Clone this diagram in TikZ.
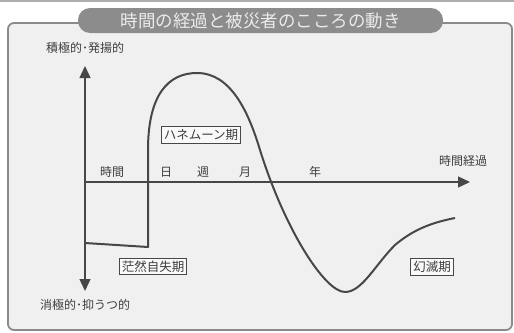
\documentclass[tikz,border=0pt]{standalone}
\usepackage{fontspec}
\newfontfamily\jp{Noto Sans CJK JP}
\usetikzlibrary{arrows.meta}
\definecolor{framebg}{HTML}{F0F0F0}
\definecolor{framec}{HTML}{8A8A8A}
\definecolor{bannerc}{HTML}{8C8C8C}
\definecolor{linec}{HTML}{474747}
\definecolor{textc}{HTML}{3E3E3E}
\tikzset{
  lbl/.style={font=\jp\fontsize{12}{13}\selectfont, text=textc, inner sep=0pt},
  phasebox/.style={draw=linec, line width=1pt, fill=white!60!framebg, font=\jp\fontsize{12.5}{13}\selectfont, text=textc, inner sep=2.5pt},
  axisline/.style={draw=linec, line width=1.3pt},
  tip/.style={-{Triangle[length=12pt,width=11pt]}},
}
\begin{document}
\begin{tikzpicture}[x=1pt,y=-1pt]
\useasboundingbox (0,0) rectangle (514,332);
\fill[white] (0,0) rectangle (514,332);
% top rule
\draw[framec!70, line width=2pt] (0,1) -- (514,1);
% frame
\draw[framec, line width=1.8pt, fill=framebg, rounded corners=6pt] (8,23) rectangle (512,330);
% banner
\node[fill=bannerc, rounded corners=12pt, minimum width=365pt, minimum height=25pt, inner sep=0pt,
      font=\jp\fontsize{17.5}{18}\selectfont, text=white!92!black] (title) at (260.5,20.5) {時間の経過と被災者のこころの動き};
% axes
\coordinate (vtop) at (85,66);
\coordinate (vbot) at (85,291);
\coordinate (vmid) at (85,182);
\coordinate (hend) at (470,182);
\draw[axisline, tip] (vmid) -- (vtop);
\draw[axisline, tip] (vmid) -- (vbot);
\draw[axisline, tip] (vmid) -- (hend);
% axis labels
\node[lbl] (pos) at (85,48) {積極的･発揚的};
\node[lbl] (neg) at (85,305) {消極的･抑うつ的};
\node[lbl] (t1) at (112,172) {時間};
\node[lbl] (t2) at (166,172) {日};
\node[lbl] (t3) at (203,172) {週};
\node[lbl] (t4) at (245,172) {月};
\node[lbl] (t5) at (315,172) {年};
\node[lbl] (tx) at (463,161) {時間経過};
% curve
\coordinate (c0) at (85,243);
\draw[linec, line width=2pt, line join=round]
  (c0) -- (148,247) -- (148,150)
  .. controls (148,95) and (168,73) .. (197,73)
  .. controls (230,73) and (248,110) .. (260,150)
  .. controls (285,230) and (325,292) .. (345,292)
  .. controls (362,292) and (375,265) .. (395,245)
  .. controls (415,228) and (435,222) .. (455,218);
% phase boxes
\node[phasebox] (honey) at (201,135) {ハネムーン期};
\node[phasebox] (stun) at (153,266.5) {茫然自失期};
\node[phasebox] (disil) at (432,267) {幻滅期};
\end{tikzpicture}
\end{document}
